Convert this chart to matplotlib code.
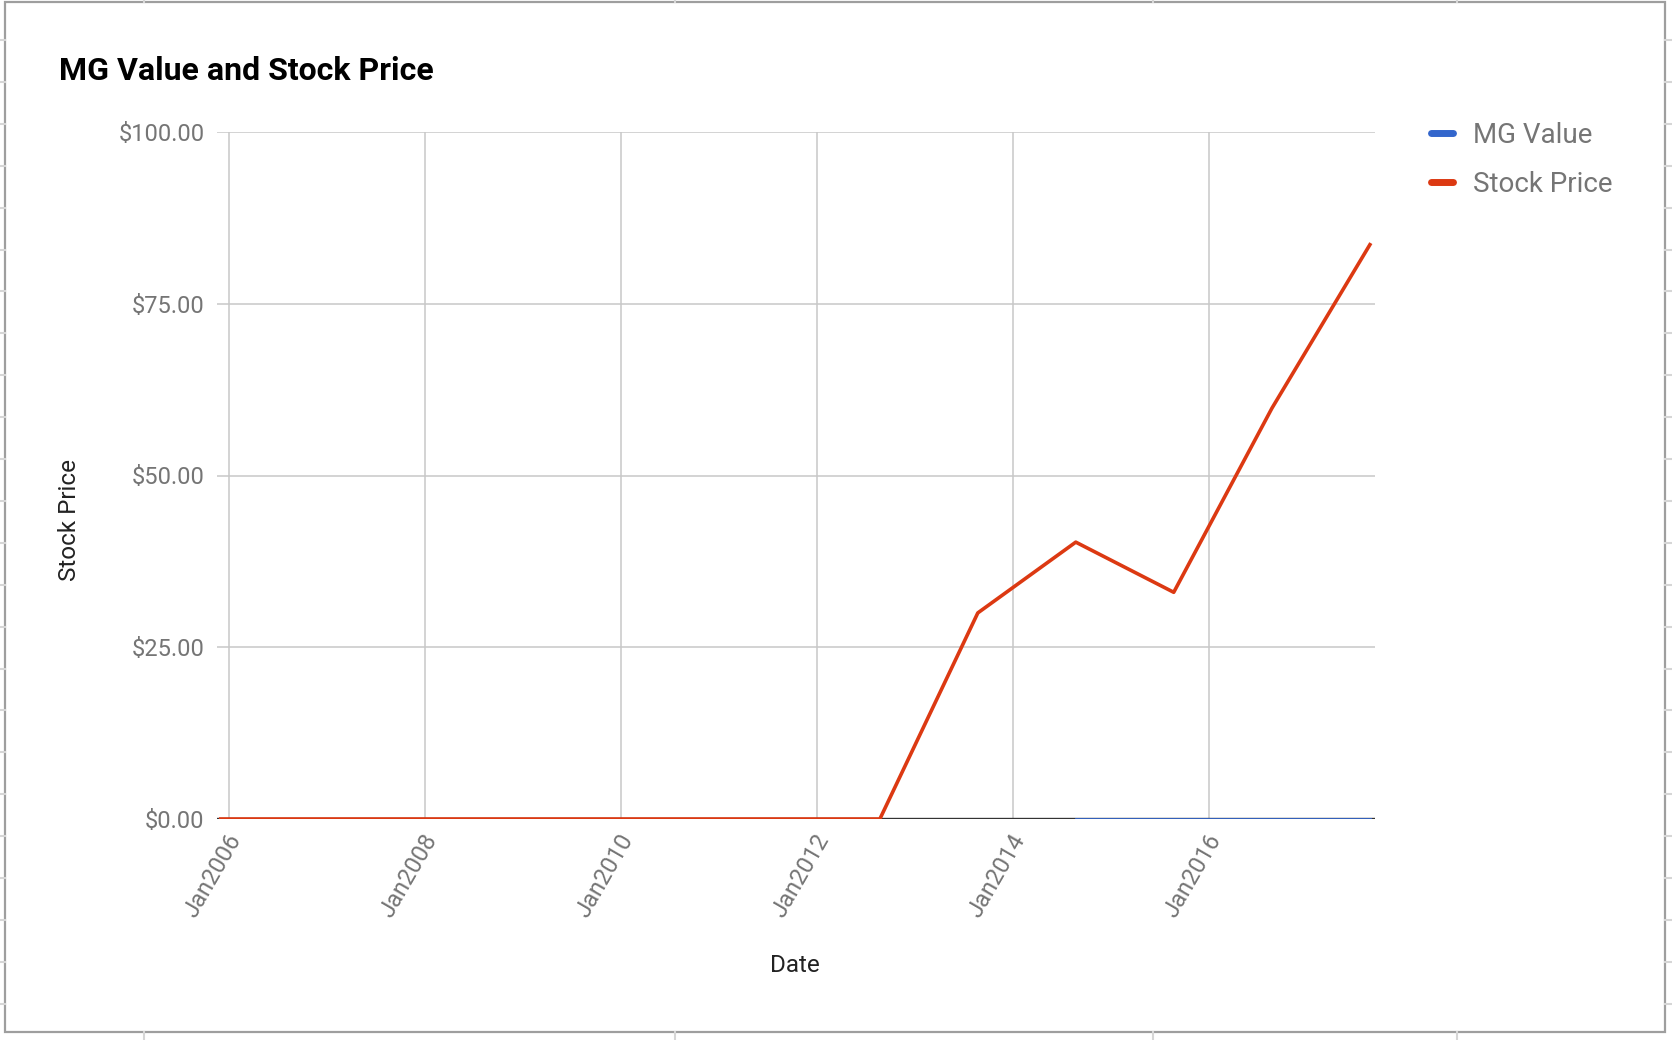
import datetime as dt
import numpy as np
import matplotlib
matplotlib.use('Agg')
import matplotlib.pyplot as plt
import matplotlib.dates as mdates
import matplotlib.transforms as mtrans
from matplotlib.lines import Line2D
from matplotlib.patches import Rectangle
from matplotlib.ticker import FuncFormatter

plt.rcParams['font.family'] = ['Roboto', 'DejaVu Sans']

# data
dates = ['2005-12-01', '2006-08-22', '2007-08-22', '2008-08-22', '2009-08-22',
         '2010-08-22', '2011-08-22', '2012-08-22', '2013-08-22', '2014-08-22',
         '2015-08-22', '2016-08-22', '2017-08-22']
stock_price = [0, 0, 0, 0, 0, 0, 0, 0, 30.0, 40.3, 33.0, 59.8, 83.6]
mg_value = [np.nan] * 9 + [0, 0, 0, 0]
y_ticks = [0, 25, 50, 75, 100]
x_tick_years = [2006, 2008, 2010, 2012, 2014, 2016]

W, H = 1672, 1040
fig = plt.figure(figsize=(W / 100, H / 100), dpi=100)


def fx(px):
    return px / W


def fy(py):
    return 1 - py / H


# spreadsheet cells peeking out round the chart frame
cell_col = '#d6d6d6'
for k in range(25):
    yy = 40 + 41.9 * k
    if yy > H:
        break
    fig.add_artist(Line2D([0, fx(5)], [fy(yy), fy(yy)], color=cell_col, lw=1.5))
    fig.add_artist(Line2D([fx(1665), 1], [fy(yy), fy(yy)], color=cell_col, lw=1.5))
for xx in [144, 675, 1153, 1457]:
    fig.add_artist(Line2D([fx(xx), fx(xx)], [1, fy(2)], color=cell_col, lw=1.5))
    fig.add_artist(Line2D([fx(xx), fx(xx)], [fy(1032), 0], color=cell_col, lw=1.5))
fig.add_artist(Rectangle((fx(5), fy(1032)), fx(1665) - fx(5), fy(2) - fy(1032),
                         transform=fig.transFigure, fill=False,
                         edgecolor='#9e9e9e', lw=1.6))

ax = fig.add_axes([fx(217), fy(819), fx(1375) - fx(217), fy(132) - fy(819)])

d = [dt.datetime.strptime(s, '%Y-%m-%d') for s in dates]
ax.plot(d, mg_value, color='#3366cc', lw=2.0, zorder=4, label='MG Value')
ax.plot(d, stock_price, color='#dc3912', lw=2.6, zorder=5, label='Stock Price')
ax.axhline(0, color='#333333', lw=1.7, zorder=3)

ax.set_xlim(d[0] - dt.timedelta(days=14), d[-1] + dt.timedelta(days=19))
ax.set_ylim(0, 100)
ax.set_yticks(y_ticks)
ax.yaxis.set_major_formatter(FuncFormatter(lambda v, p: '${:.2f}'.format(v)))
ax.set_xticks([dt.datetime(y, 1, 1) for y in x_tick_years])
ax.xaxis.set_major_formatter(mdates.DateFormatter('%b%Y'))

ax.grid(True, color='#c8c8c8', lw=1.1, zorder=0)
for s in ax.spines.values():
    s.set_visible(False)
ax.tick_params(length=0, labelsize=17, labelcolor='#757575')
ax.tick_params(axis='y', pad=9)
ax.tick_params(axis='x', pad=12)
shift = mtrans.ScaledTranslation(0.065, 0, fig.dpi_scale_trans)
for lab in ax.get_xticklabels():
    lab.set_rotation(60)
    lab.set_ha('right')
    lab.set_va('center')
    lab.set_rotation_mode('anchor')
    lab.set_transform(lab.get_transform() + shift)

fig.text(fx(59), fy(80), 'MG Value and Stock Price', fontsize=23,
         fontweight='bold', color='#000000', ha='left', va='baseline')
fig.text(fx(69), fy(520), 'Stock Price', fontsize=17.5, color='#222222',
         rotation=90, ha='center', va='center')
fig.text(fx(795), fy(966), 'Date', fontsize=17.5, color='#222222',
         ha='center', va='center')

handles = [Line2D([0], [0], color='#3366cc', lw=5, solid_capstyle='round'),
           Line2D([0], [0], color='#dc3912', lw=5, solid_capstyle='round')]
leg = fig.legend(handles, ['MG Value', 'Stock Price'], loc='upper left',
                 bbox_to_anchor=(fx(1431), fy(122)), frameon=False,
                 fontsize=20, handlelength=0.8, handletextpad=0.7,
                 labelspacing=0.8, borderaxespad=0, borderpad=0)
for t in leg.get_texts():
    t.set_color('#757575')

fig.savefig('out.png', dpi=100)
